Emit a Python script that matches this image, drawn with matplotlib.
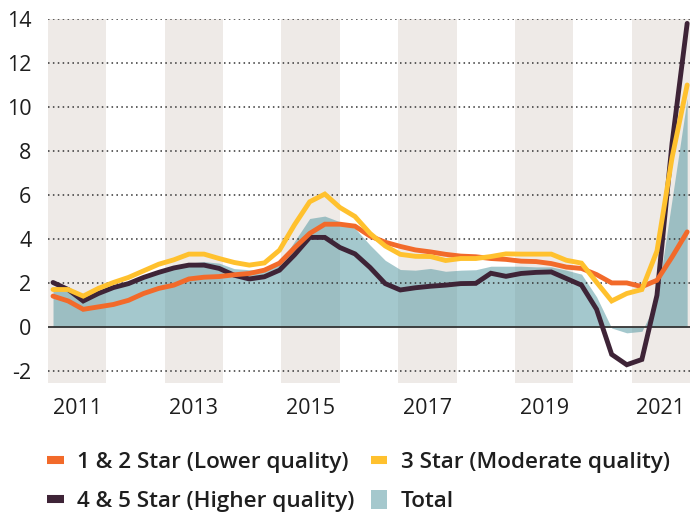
import numpy as np
import matplotlib
matplotlib.use("Agg")
import matplotlib.pyplot as plt
from matplotlib.lines import Line2D
from matplotlib.patches import Patch

plt.rcParams['font.family'] = ['Open Sans', 'DejaVu Sans']

# ---- data (quarterly, % change) ----
star_12 = [1.40, 1.18, 0.80, 0.91, 1.02, 1.21, 1.52, 1.75, 1.90, 2.18, 2.26, 2.29, 2.37, 2.43,
           2.58, 2.90, 3.60, 4.25, 4.67, 4.67, 4.58, 4.13, 3.85, 3.66, 3.50, 3.41, 3.30, 3.22,
           3.19, 3.11, 3.07, 2.99, 2.97, 2.88, 2.72, 2.66, 2.38, 2.00, 2.00, 1.83, 2.12, 3.18, 4.32]
star_3 = [1.70, 1.70, 1.40, 1.75, 2.02, 2.25, 2.55, 2.85, 3.05, 3.31, 3.31, 3.11, 2.93, 2.81,
          2.91, 3.49, 4.65, 5.69, 6.04, 5.43, 5.02, 4.25, 3.68, 3.30, 3.21, 3.20, 3.02, 3.11,
          3.11, 3.20, 3.32, 3.31, 3.31, 3.31, 3.03, 2.90, 2.03, 1.18, 1.52, 1.70, 3.45, 7.70, 11.0]
star_45 = [2.02, 1.70, 1.18, 1.52, 1.79, 1.97, 2.25, 2.48, 2.68, 2.81, 2.81, 2.66, 2.35, 2.18,
           2.28, 2.58, 3.28, 4.07, 4.07, 3.61, 3.32, 2.70, 1.97, 1.68, 1.78, 1.85, 1.90, 1.97,
           1.98, 2.44, 2.30, 2.43, 2.48, 2.50, 2.20, 1.90, 0.80, -1.25, -1.72, -1.48, 1.44, 8.35, 13.8]
total = [1.70, 1.60, 1.25, 1.55, 1.80, 2.00, 2.25, 2.50, 2.70, 2.90, 2.97, 2.90, 2.65, 2.60,
         2.60, 2.85, 3.90, 4.93, 5.04, 4.78, 4.48, 3.72, 3.03, 2.61, 2.58, 2.66, 2.53, 2.58,
         2.60, 2.76, 2.76, 2.76, 2.73, 2.73, 2.58, 2.40, 1.37, -0.05, -0.27, -0.20, 1.21, 5.80, 10.4]

band_years = [2011, 2013, 2015, 2017, 2019, 2021]
tick_years = ['2011', '2013', '2015', '2017', '2019', '2021']
y_ticks = [-2, 0, 2, 4, 6, 8, 10, 12, 14]
labels = ['1 & 2 Star (Lower quality)', '3 Star (Moderate quality)',
          '4 & 5 Star (Higher quality)', 'Total']

# ---- style ----
C_ORANGE = '#F26A2A'
C_YELLOW = '#FFC12E'
C_DARK = '#3E2437'
C_TEAL = '#5A9BA5'
C_BAND = '#EEEAE7'
TXT = '#1E1E1E'

n = len(total)
x = 2011.086 + np.arange(n) * 0.2587

fig = plt.figure(figsize=(6.96, 5.15), dpi=100)
ax = fig.add_axes([48 / 696, 1 - 383 / 515, 642 / 696, 364 / 515])
ax.set_xlim(2011, 2022)
ax.set_ylim(-2.55, 14)

for yr in band_years:
    ax.axvspan(yr, yr + 1, color=C_BAND, lw=0, zorder=0)

ax.fill_between(x, 0, total, color=C_TEAL, alpha=0.55, lw=0, zorder=1)

for yv in y_ticks:
    if yv == 0:
        continue
    ax.axhline(yv, color='#333333', lw=1.1, ls=(0, (1, 2.2)), zorder=2)
ax.axhline(0, color='#333333', lw=1.3, zorder=2.5)

lw = 3.5
ax.plot(x, star_45, color=C_DARK, lw=lw, solid_capstyle='round', solid_joinstyle='miter', zorder=3)
ax.plot(x, star_12, color=C_ORANGE, lw=lw, solid_capstyle='round', solid_joinstyle='miter', zorder=4)
ax.plot(x, star_3, color=C_YELLOW, lw=lw, solid_capstyle='round', solid_joinstyle='miter', zorder=5)

for s in ax.spines.values():
    s.set_visible(False)
ax.set_yticks(y_ticks)
ax.set_yticklabels([str(v) for v in y_ticks])
ax.set_xticks([int(t) + 0.5 for t in tick_years])
ax.set_xticklabels(tick_years)
ax.tick_params(axis='both', length=0, labelsize=15.5, colors=TXT)
ax.tick_params(axis='y', pad=12)
ax.tick_params(axis='x', pad=11)

handles = [
    Line2D([0], [0], color=C_ORANGE, lw=5.8, solid_capstyle='butt'),
    Line2D([0], [0], color=C_DARK, lw=5.8, solid_capstyle='butt'),
    Line2D([0], [0], color=C_YELLOW, lw=5.8, solid_capstyle='butt'),
    Patch(facecolor='#A5C8CD', edgecolor='none'),
]
leg_labels = [labels[0], labels[2], labels[1], labels[3]]
fs = 16.2
leg = fig.legend(handles, leg_labels, ncol=2, loc='upper left',
                 bbox_to_anchor=(47 / 696, 1 - 451 / 515), frameon=False,
                 fontsize=fs, handlelength=0.75, handleheight=0.92, handletextpad=0.6,
                 columnspacing=0.7, labelspacing=0.74, borderaxespad=0, borderpad=0)
for t in leg.get_texts():
    t.set_color(TXT)
    t.set_fontweight('semibold')

fig.savefig('out.png', dpi=100)
